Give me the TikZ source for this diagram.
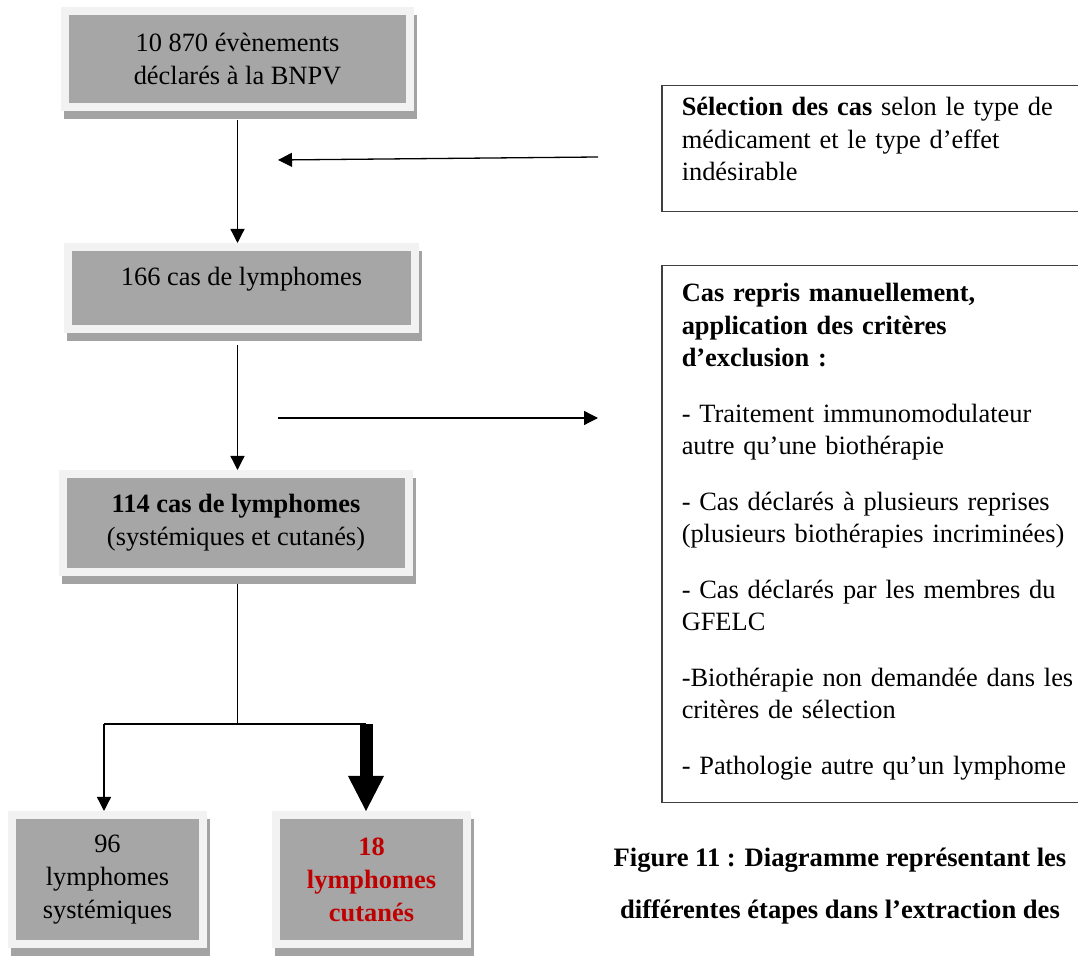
\documentclass[tikz,border=0pt]{standalone}
\usepackage{fontspec}
\setmainfont{Liberation Serif}
\usetikzlibrary{arrows.meta}
\usetikzlibrary{calc}
\usetikzlibrary{backgrounds}
\definecolor{boxgray}{HTML}{A6A6A6}
\definecolor{framegray}{HTML}{F2F2F2}
\definecolor{shadowgray}{HTML}{A3A3A3}
\definecolor{casered}{HTML}{C00000}

\begin{document}
\begin{tikzpicture}[x=0.5pt,y=-0.5pt,>={Triangle[length=7pt,width=7pt]},line width=0.65pt]
		\tikzstyle{graybox}=[rectangle,fill=boxgray,draw=framegray,line width=4pt,align=center,
			font=\fontsize{13.2}{16.5}\selectfont];
		\tikzstyle{textbox}=[rectangle,draw=black!75,line width=0.75pt,anchor=north west,
			align=left,text width=205pt,inner xsep=10pt,inner ysep=0pt,
			font=\fontsize{13.2}{16.25}\selectfont];
		\tikzstyle{bigarrow}=[line width=6.5pt,-{Triangle[length=17.5pt,width=18pt,line width=0pt]}];
		\useasboundingbox(0,0)rectangle(1078,956);

		\node[graybox,minimum width=172.5pt,minimum height=48pt](00)at(237.5,59)
			{10 870 évènements\\déclarés à la BNPV};
		\node[graybox,minimum width=173.5pt,minimum height=41pt,text height=10pt,text depth=12pt](10)at(241.5,288)
			{166 cas de lymphomes};
		\node[graybox,minimum width=173pt,minimum height=49pt](20)at(236,523)
			{\textbf{114 cas de lymphomes}\\(systémiques et cutanés)};
		\node[graybox,minimum width=95.5pt,minimum height=64.5pt](30)at(107.5,879.5)
			{96\\lymphomes\\systémiques};
		\node[graybox,minimum width=95.5pt,minimum height=64.5pt,text=casered,font=\fontsize{13.2}{16.5}\selectfont\bfseries](31)at(371.5,879.5)
			{18\\lymphomes\\cutanés};
		\begin{scope}[on background layer]
			\foreach \n in {00,10,20,30,31}
				\fill[shadowgray]($(\n.south west)+(3,8)$)rectangle($(\n.north east)+(3,8)$);
		\end{scope}

		\node[textbox,text height=15pt,text depth=48pt](02)at(661,85)
			{\textbf{Sélection des cas} selon le type de\\médicament et le type d’effet\\indésirable};
		\node[textbox,text height=18pt,text depth=250.5pt](12)at(661,265)
			{\textbf{Cas repris manuellement,}\\\textbf{application des critères}\\\textbf{d’exclusion :}\\[11.5pt]
			- Traitement immunomodulateur\\autre qu’une biothérapie\\[11.5pt]
			- Cas déclarés à plusieurs reprises\\(plusieurs biothérapies incriminées)\\[11.5pt]
			- Cas déclarés par les membres du\\GFELC\\[11.5pt]
			-Biothérapie non demandée dans les\\critères de sélection\\[11.5pt]
			- Pathologie autre qu’un lymphome};
		\node[align=center,font=\fontsize{13.3}{26}\selectfont\bfseries](32)at(840,886)
			{Figure 11 : Diagramme représentant les\\différentes étapes dans l’extraction des};

		\draw[->,shorten <=4.5pt](00.south)--(00.south|-10.north);
		\draw[->,shorten <=6pt](00.south|-10.south)--(00.south|-20.north);
		\coordinate(jl)at(104,724);
		\coordinate(jr)at(366,724);
		\draw[shorten <=4pt](00.south|-20.south)--(00.south|-jl);
		\draw(jl)--(jr);
		\draw[->](jl)--(jl|-30.north);
		\draw[bigarrow](jr)--(jr|-31.north);

		\coordinate(s0)at(598,157);
		\coordinate(e0)at(278,160);
		\draw[->](s0)--(e0);
		\coordinate(s1)at(278,418);
		\coordinate(e1)at(598,418);
		\draw[->](s1)--(e1);
	\end{tikzpicture}
\end{document}
